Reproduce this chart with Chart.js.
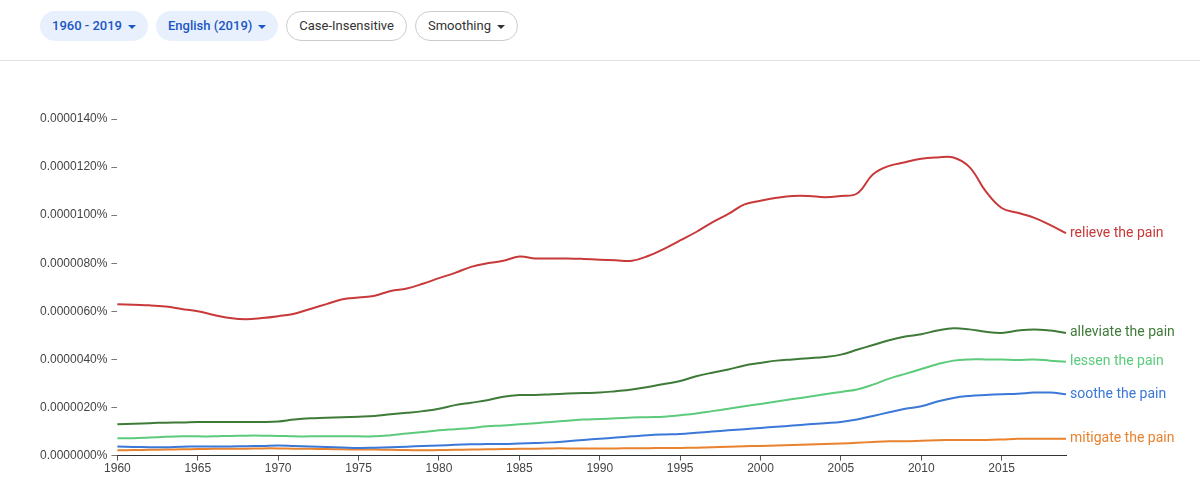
<!DOCTYPE html>
<html><head><meta charset="utf-8">
<script src="https://cdn.jsdelivr.net/npm/chart.js@4"></script>
<style>
body{margin:0;width:1200px;height:477px;background:#fff;font-family:Roboto,Arial,sans-serif;overflow:hidden;position:relative}
.bar{position:absolute;left:40px;top:11px;display:flex;gap:8px}
.btn{height:30px;line-height:30px;border-radius:16px;padding:0 12px;font-size:13px;box-sizing:border-box}
.sel{background:#e8f0fe;color:#1a56c4;font-weight:500}
.out{border:1px solid #ccc;color:#333;line-height:28px}
.car{display:inline-block;margin-left:6px;border-left:4px solid transparent;border-right:4px solid transparent;border-top:4px solid currentColor;vertical-align:middle}
.sep{position:absolute;left:0;right:0;top:60px;border-top:1px solid #e0e0e0}
#wrap{position:absolute;left:0;top:61px;width:1200px;height:416px}
</style></head><body>
<div class="bar">
<div class="btn sel">1960 - 2019<span class="car"></span></div>
<div class="btn sel">English (2019)<span class="car"></span></div>
<div class="btn out">Case-Insensitive</div>
<div class="btn out">Smoothing<span class="car"></span></div>
</div>
<div class="sep"></div>
<div id="wrap"><canvas id="c"></canvas></div>
<script>
const years = [];
for (let y = 1960; y <= 2019; y++) years.push(y);

const relieve = [6.3,6.27,6.25,6.2,6.1,6.0,5.85,5.72,5.67,5.72,
 5.8,5.9,6.1,6.3,6.5,6.58,6.65,6.85,6.95,7.15,
 7.38,7.6,7.85,8.0,8.1,8.28,8.2,8.2,8.2,8.18,
 8.15,8.12,8.1,8.3,8.6,8.95,9.3,9.7,10.05,10.45,
 10.6,10.72,10.8,10.8,10.75,10.8,10.9,11.7,12.05,12.2,
 12.35,12.4,12.4,12.0,11.0,10.3,10.1,9.9,9.6,9.25];
const alleviate = [1.3,1.32,1.35,1.37,1.38,1.4,1.4,1.4,1.4,1.4,
 1.42,1.5,1.55,1.57,1.6,1.62,1.65,1.72,1.78,1.85,
 1.95,2.1,2.2,2.3,2.45,2.52,2.52,2.55,2.58,2.6,
 2.62,2.68,2.75,2.85,2.98,3.1,3.3,3.45,3.58,3.75,
 3.85,3.95,4.0,4.05,4.1,4.2,4.4,4.6,4.8,4.95,
 5.05,5.2,5.3,5.25,5.15,5.1,5.2,5.25,5.2,5.1];
const lessen = [0.72,0.72,0.75,0.78,0.8,0.8,0.8,0.82,0.83,0.83,
 0.82,0.8,0.8,0.8,0.8,0.8,0.8,0.85,0.92,0.98,
 1.05,1.1,1.15,1.22,1.25,1.3,1.35,1.4,1.45,1.5,
 1.52,1.55,1.58,1.6,1.62,1.68,1.75,1.85,1.95,2.05,
 2.15,2.25,2.35,2.45,2.55,2.65,2.75,2.95,3.2,3.4,
 3.6,3.8,3.95,4.0,4.0,4.0,3.98,4.0,3.95,3.9];
const soothe = [0.38,0.36,0.35,0.35,0.37,0.38,0.38,0.38,0.39,0.4,
 0.42,0.4,0.38,0.36,0.34,0.32,0.33,0.35,0.37,0.4,
 0.42,0.45,0.47,0.48,0.48,0.5,0.52,0.55,0.6,0.65,
 0.7,0.75,0.8,0.85,0.88,0.9,0.95,1.0,1.05,1.1,
 1.15,1.2,1.25,1.3,1.35,1.4,1.5,1.65,1.8,1.95,
 2.05,2.25,2.4,2.48,2.52,2.55,2.57,2.62,2.62,2.55];
const mitigate = [0.22,0.23,0.24,0.25,0.26,0.27,0.28,0.28,0.29,0.3,
 0.3,0.29,0.28,0.27,0.26,0.25,0.25,0.24,0.23,0.22,
 0.23,0.24,0.25,0.26,0.27,0.28,0.29,0.3,0.3,0.3,
 0.3,0.3,0.31,0.31,0.32,0.32,0.33,0.35,0.37,0.39,
 0.4,0.42,0.44,0.46,0.48,0.5,0.53,0.57,0.6,0.6,
 0.62,0.64,0.65,0.65,0.65,0.67,0.7,0.7,0.7,0.7];

const seriesNames = ['relieve the pain','alleviate the pain','lessen the pain','soothe the pain','mitigate the pain'];
const seriesData = [relieve, alleviate, lessen, soothe, mitigate];
const seriesColors = ['#c8393a','#3f7b38','#5ccb7c','#3b78d8','#e8822e'];

// draws the series name just right of its last point
const endLabels = {
  id: 'endLabels',
  afterDatasetsDraw(chart) {
    const ctx = chart.ctx;
    ctx.save();
    ctx.font = '14px Roboto, Arial, sans-serif';
    ctx.textBaseline = 'middle';
    chart.data.datasets.forEach((ds, i) => {
      const pts = chart.getDatasetMeta(i).data;
      const p = pts[pts.length - 1];
      ctx.fillStyle = ds.borderColor;
      ctx.fillText(ds.label, p.x + 4, p.y);
    });
    ctx.restore();
  }
};

new Chart(document.getElementById('c'), {
  type: 'line',
  data: {
    labels: years,
    datasets: seriesNames.map((n, i) => ({
      label: n, data: seriesData[i], borderColor: seriesColors[i],
      borderWidth: 2, pointRadius: 0, tension: 0.4, fill: false
    }))
  },
  options: {
    responsive: true, maintainAspectRatio: false, animation: false,
    layout: { padding: { top: 58, right: 134, left: 36, bottom: 0 } },
    plugins: { legend: { display: false }, tooltip: { enabled: false } },
    scales: {
      x: {
        grid: { display: true, drawOnChartArea: false, tickLength: 5, color: '#555' },
        border: { color: '#333' },
        ticks: {
          color: '#444', font: { size: 12 }, maxRotation: 0, autoSkip: false, padding: 1,
          callback: function (v) { const y = years[v]; return y % 5 === 0 ? String(y) : null; }
        }
      },
      y: {
        min: 0, max: 14,
        grid: { display: true, drawOnChartArea: false, tickLength: 6, color: '#777' },
        border: { display: false },
        ticks: {
          stepSize: 2, color: '#444', font: { size: 12 }, padding: 4,
          callback: v => (v / 1e6).toFixed(7) + '%'
        }
      }
    }
  },
  plugins: [endLabels]
});
</script>
</body></html>
